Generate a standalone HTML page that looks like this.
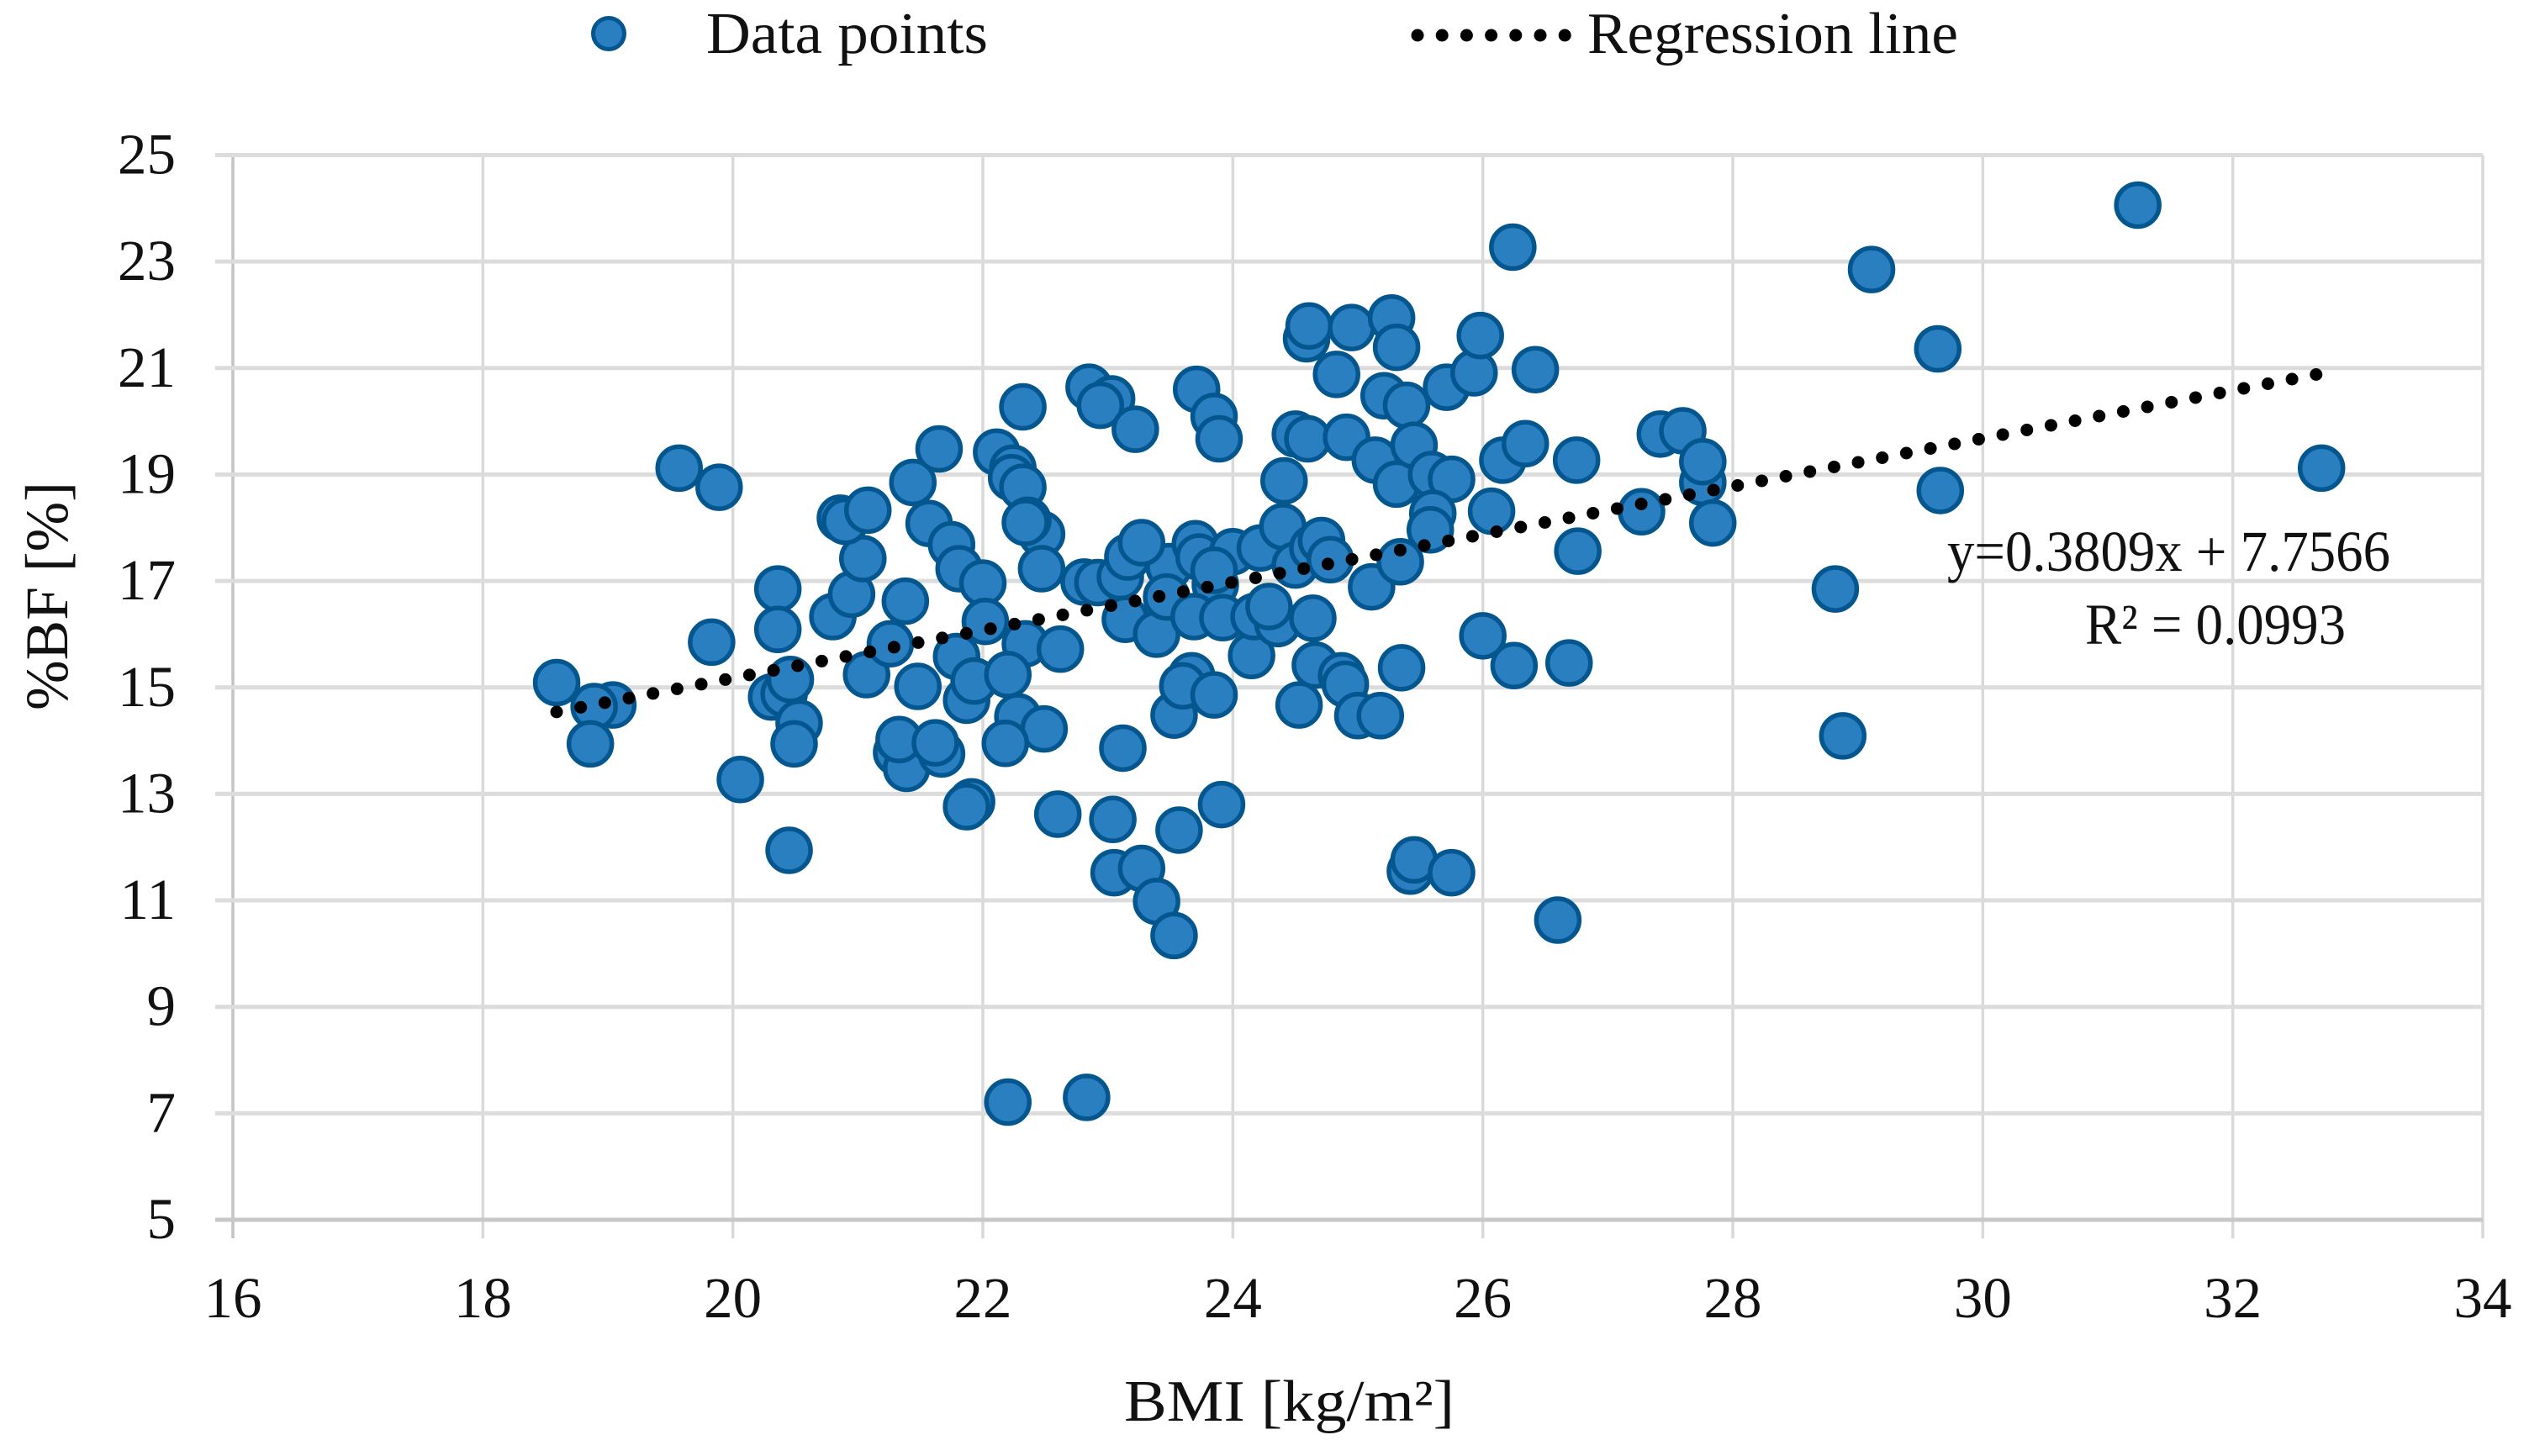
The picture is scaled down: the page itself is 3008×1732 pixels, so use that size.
<!DOCTYPE html>
<html lang="en">
<head>
<meta charset="utf-8">
<title>BMI vs %BF scatter chart</title>
<style>
html,body{margin:0;padding:0;background:#fff;width:3008px;height:1732px;overflow:hidden}
svg{display:block}
text{font-family:"Liberation Serif",serif;fill:#111}
</style>
</head>
<body>
<svg id="chart" xmlns="http://www.w3.org/2000/svg" width="3008" height="1732" viewBox="0 0 3008 1732">
  <rect width="3008" height="1732" fill="#fff"/>
  <g id="grid"></g>
  <g id="ticks"></g>
  <g id="points"></g>
  <line id="trend" stroke="#000" stroke-width="15" stroke-linecap="round" stroke-dasharray="0 29.19"/>

  <g>
    <g>
      <circle cx="724" cy="40" r="18.5" fill="#2a7fc1" stroke="#04568f" stroke-width="5"/>
      <text x="840" y="63" font-size="70" textLength="335" lengthAdjust="spacingAndGlyphs">Data points</text>
    </g>
    <g>
      <line x1="1686" y1="42" x2="1864" y2="42" stroke="#000" stroke-width="15" stroke-linecap="round" stroke-dasharray="0 29.2"/>
      <text x="1888" y="63" font-size="70" textLength="441" lengthAdjust="spacingAndGlyphs">Regression line</text>
    </g>
  </g>

  <text x="2316" y="679" font-size="69" textLength="527" lengthAdjust="spacingAndGlyphs">y=0.3809x + 7.7566</text>
  <text x="2480" y="766" font-size="69" textLength="310" lengthAdjust="spacingAndGlyphs">R² = 0.0993</text>

  <text x="1337" y="1690" font-size="70" textLength="393" lengthAdjust="spacingAndGlyphs">BMI [kg/m²]</text>
  <text transform="translate(80,845) rotate(-90)" font-size="72" textLength="272" lengthAdjust="spacingAndGlyphs">%BF [%]</text>
</svg>
<script>
const xTickLabels = [16,18,20,22,24,26,28,30,32,34];
const yTickLabels = [5,7,9,11,13,15,17,19,21,23,25];
const bmiValues = [
18.59,19.04,18.89,18.86,19.57,19.89,19.83,20.06,20.36,20.36,20.31,20.41,20.46,20.53,20.49,20.45,
20.80,20.95,21.04,20.86,20.90,21.08,21.07,21.26,21.38,21.44,21.57,21.65,21.75,21.81,22.00,22.02,
21.48,21.79,21.87,21.93,21.31,21.39,21.33,21.67,21.62,21.91,21.87,22.11,22.24,22.23,22.32,22.32,
22.47,22.36,22.34,22.47,22.34,22.20,22.28,22.49,22.18,22.62,22.60,22.20,22.83,22.81,22.92,23.10,
22.85,23.03,22.94,23.22,23.49,23.16,23.14,23.39,23.12,23.04,23.05,23.27,23.39,23.53,23.57,23.91,
23.53,23.27,23.47,23.70,23.73,23.86,24.00,23.69,23.92,23.85,23.67,23.60,23.85,23.71,23.85,23.89,
24.15,24.22,24.17,24.36,24.29,24.40,24.41,24.50,24.60,24.59,24.61,24.50,24.64,24.71,24.78,24.64,
24.53,24.66,24.87,24.90,25.00,25.18,25.11,25.35,25.34,24.83,24.95,24.91,25.14,25.21,25.27,25.31,
25.39,25.31,25.45,25.42,25.45,25.75,25.59,25.75,25.60,25.58,25.71,25.93,25.98,26.07,26.16,26.34,
26.42,26.24,26.00,26.25,26.60,26.69,26.76,26.75,27.27,27.42,27.60,27.76,27.76,27.84,28.82,
28.88,29.11,29.64,29.66,31.24,32.71
];
const bodyFatValues = [
15.09,14.67,14.64,13.94,19.12,18.76,15.85,13.27,16.85,16.09,14.82,14.88,15.15,14.33,13.94,11.94,
16.33,16.75,17.42,18.18,18.12,18.33,15.24,15.82,16.62,18.85,18.08,19.48,17.68,17.23,16.96,16.24,
15.02,15.58,14.76,15.12,13.78,13.48,14.02,13.75,13.96,12.85,12.76,19.42,19.12,18.94,18.76,20.27,
17.88,18.14,15.82,17.23,18.10,15.24,14.45,14.22,13.95,15.72,12.62,7.21,7.30,16.98,16.97,17.08,
20.64,20.42,20.30,19.85,17.27,17.45,16.28,16.00,13.86,12.52,11.52,11.60,10.98,10.34,12.32,12.80,
14.48,17.72,16.70,17.70,17.45,16.93,17.55,16.33,16.31,17.20,15.22,15.03,14.86,20.60,20.09,19.67,
15.60,17.62,16.33,16.20,16.52,18.02,18.88,19.76,19.67,21.55,21.79,17.30,17.62,17.76,17.40,16.30,
14.67,15.42,15.22,15.06,14.47,14.47,16.89,15.37,17.36,20.88,21.76,19.70,19.27,20.48,21.94,21.39,
20.30,18.82,19.55,11.55,11.76,11.52,19.00,18.91,18.27,17.96,20.64,20.91,21.61,18.31,19.27,19.58,
20.97,23.27,15.97,15.41,10.63,15.46,17.56,19.27,18.30,19.76,19.82,18.85,19.24,18.09,16.85,
14.09,22.85,21.36,18.70,24.06,19.12
];
const trendBmi = [18.59, 32.67];
const trendBodyFat = [14.54, 20.88];

const NS = 'http://www.w3.org/2000/svg';
const xScale = function (v) { return 277 + (v - 16) * (2953 - 277) / 18; };
const yScale = function (v) { return 1451 - (v - 5) * (1451 - 184.5) / 20; };
const gridGroup = document.getElementById('grid');
const ticksGroup = document.getElementById('ticks');
const pointsGroup = document.getElementById('points');

function makeLine(x1, y1, x2, y2, color, width) {
  const l = document.createElementNS(NS, 'line');
  l.setAttribute('x1', x1);
  l.setAttribute('y1', y1);
  l.setAttribute('x2', x2);
  l.setAttribute('y2', y2);
  l.setAttribute('stroke', color);
  l.setAttribute('stroke-width', width);
  return l;
}

xTickLabels.forEach(function (t, i) {
  const px = xScale(t);
  const l = makeLine(px, 184.5, px, 1473, i === 0 ? '#c4c4c4' : '#d9d9d9', 3.5);
  
  
  gridGroup.appendChild(l);
  const label = document.createElementNS(NS, 'text');
  
  
  label.setAttribute('x', px);
  label.setAttribute('y', 1567);
  label.setAttribute('font-size', '69');
  label.setAttribute('text-anchor', 'middle');
  label.textContent = t;
  ticksGroup.appendChild(label);
});

yTickLabels.forEach(function (t, i) {
  const py = yScale(t);
  const l = makeLine(256, py, 2953, py, i === 0 ? '#c8c8c8' : '#dcdcdc', 5);
  
  
  gridGroup.appendChild(l);
  const label = document.createElementNS(NS, 'text');
  
  
  label.setAttribute('x', 209);
  label.setAttribute('y', py + 22);
  label.setAttribute('font-size', '69');
  label.setAttribute('text-anchor', 'end');
  label.textContent = t;
  ticksGroup.appendChild(label);
});

bmiValues.forEach(function (bmi, i) {
  const c = document.createElementNS(NS, 'circle');
  
  
  c.setAttribute('cx', xScale(bmi));
  c.setAttribute('cy', yScale(bodyFatValues[i]));
  c.setAttribute('r', 25.5);
  c.setAttribute('fill', '#2a7fc1');
  c.setAttribute('stroke', '#04568f');
  c.setAttribute('stroke-width', 5.5);
  pointsGroup.appendChild(c);
});

const trend = document.getElementById('trend');
trend.setAttribute('x1', xScale(trendBmi[0]));
trend.setAttribute('y1', yScale(trendBodyFat[0]));
trend.setAttribute('x2', xScale(trendBmi[1]));
trend.setAttribute('y2', yScale(trendBodyFat[1]));
</script>
</body>
</html>
